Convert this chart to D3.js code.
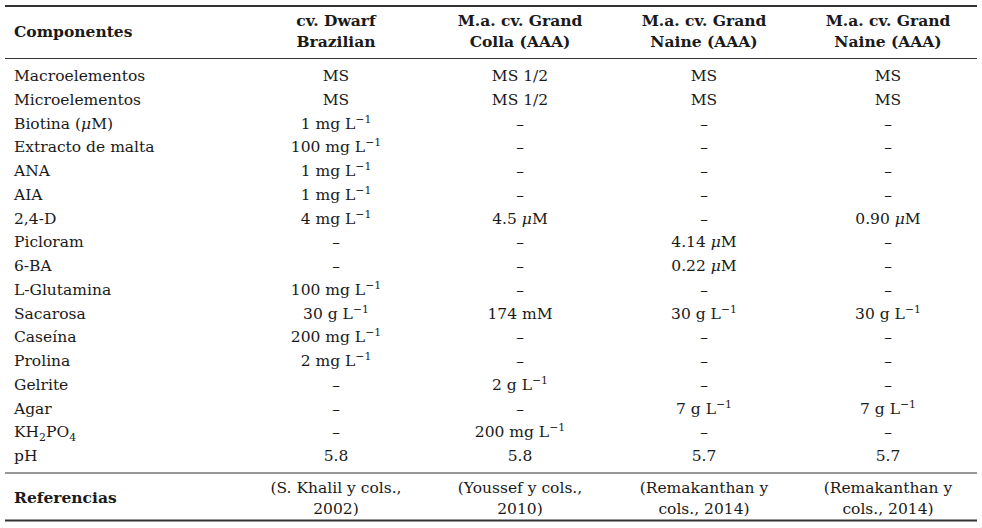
<!DOCTYPE html>
<html>
<head>
<meta charset="utf-8">
<script src="https://cdn.jsdelivr.net/npm/d3@7"></script>
<style>
  body { margin: 0; background: #fff; }
  svg text { font-family: "DejaVu Serif", serif; fill: #1a1a1a; }
</style>
</head>
<body>
<svg class="tabla" width="982" height="528"></svg>
<script>
// column headers (two lines each)
const headers = [
  ["cv. Dwarf", "Brazilian"],
  ["M.a. cv. Grand", "Colla (AAA)"],
  ["M.a. cv. Grand", "Naine (AAA)"],
  ["M.a. cv. Grand", "Naine (AAA)"]
];

// row labels ( _{} = subscript, *x* = italic )
const componentes = [
  "Macroelementos", "Microelementos", "Biotina (*μ*M)", "Extracto de malta",
  "ANA", "AIA", "2,4-D", "Picloram", "6-BA", "L-Glutamina", "Sacarosa",
  "Caseína", "Prolina", "Gelrite", "Agar", "KH_{2}PO_{4}", "pH"
];

// values per column ( ^{} = superscript )
const dwarfBrazilian = [
  "MS", "MS", "1 mg L^{−1}", "100 mg L^{−1}", "1 mg L^{−1}", "1 mg L^{−1}",
  "4 mg L^{−1}", "–", "–", "100 mg L^{−1}", "30 g L^{−1}", "200 mg L^{−1}",
  "2 mg L^{−1}", "–", "–", "–", "5.8"
];
const grandColla = [
  "MS 1/2", "MS 1/2", "–", "–", "–", "–", "4.5 *μ*M", "–", "–", "–",
  "174 mM", "–", "–", "2 g L^{−1}", "–", "200 mg L^{−1}", "5.8"
];
const grandNaine1 = [
  "MS", "MS", "–", "–", "–", "–", "–", "4.14 *μ*M", "0.22 *μ*M", "–",
  "30 g L^{−1}", "–", "–", "–", "7 g L^{−1}", "–", "5.7"
];
const grandNaine2 = [
  "MS", "MS", "–", "–", "–", "–", "0.90 *μ*M", "–", "–", "–",
  "30 g L^{−1}", "–", "–", "–", "7 g L^{−1}", "–", "5.7"
];
const columnas = [dwarfBrazilian, grandColla, grandNaine1, grandNaine2];

const referencias = [
  ["(S. Khalil y cols.,", "2002)"],
  ["(Youssef y cols.,", "2010)"],
  ["(Remakanthan y", "cols., 2014)"],
  ["(Remakanthan y", "cols., 2014)"]
];

const svg = d3.select(".tabla");
const fs = 15.5;

// scales
const xScale = d3.scalePoint().domain(d3.range(headers.length)).range([336, 888]);
const yScale = d3.scalePoint().domain(componentes).range([76, 456]);
const leftX = 14;

// writes a string with simple markup into a text element
function rich(sel, str) {
  const re = /(\^\{[^}]*\}|_\{[^}]*\}|\*[^*]*\*)/g;
  str.split(re).filter(s => s.length).forEach(part => {
    if (part.startsWith("^{")) {
      sel.append("tspan").attr("font-size", fs * 0.7).attr("baseline-shift", "6").text(part.slice(2, -1));
    } else if (part.startsWith("_{")) {
      sel.append("tspan").attr("font-size", fs * 0.7).attr("baseline-shift", "-4").text(part.slice(2, -1));
    } else if (part.startsWith("*")) {
      sel.append("tspan").attr("font-style", "italic").text(part.slice(1, -1));
    } else {
      sel.append("tspan").text(part);
    }
  });
}

// rules
const rules = [
  { y: 6, w: 2 }, { y: 58.5, w: 1.2 }, { y: 473, w: 1.2 }, { y: 520.5, w: 2 }
];
svg.selectAll(".rule").data(rules).enter().append("line")
  .attr("x1", 5).attr("x2", 977)
  .attr("y1", d => d.y).attr("y2", d => d.y)
  .attr("stroke", "#333").attr("stroke-width", d => d.w);

// header
svg.append("text").attr("x", leftX).attr("y", 37).attr("font-size", fs)
  .attr("font-weight", "bold").text("Componentes");
headers.forEach((h, i) => {
  h.forEach((line, j) => {
    svg.append("text").attr("x", xScale(i)).attr("y", 26 + j * 21)
      .attr("text-anchor", "middle").attr("font-size", fs)
      .attr("font-weight", "bold").text(line);
  });
});

// row labels
svg.selectAll(".comp").data(componentes).enter().append("text")
  .attr("class", "comp").attr("x", leftX).attr("y", d => yScale(d) + 5)
  .attr("font-size", fs)
  .each(function (d) { rich(d3.select(this), d); });

// cells
columnas.forEach((col, i) => {
  svg.selectAll(".c" + i).data(col).enter().append("text")
    .attr("class", "c" + i)
    .attr("x", xScale(i))
    .attr("y", (d, k) => yScale(componentes[k]) + 5)
    .attr("text-anchor", "middle").attr("font-size", fs)
    .each(function (d) { rich(d3.select(this), d); });
});

// references
svg.append("text").attr("x", leftX).attr("y", 503).attr("font-size", fs)
  .attr("font-weight", "bold").text("Referencias");
referencias.forEach((r, i) => {
  r.forEach((line, j) => {
    svg.append("text").attr("x", xScale(i)).attr("y", 493 + j * 21)
      .attr("text-anchor", "middle").attr("font-size", fs).text(line);
  });
});
</script>
</body>
</html>
